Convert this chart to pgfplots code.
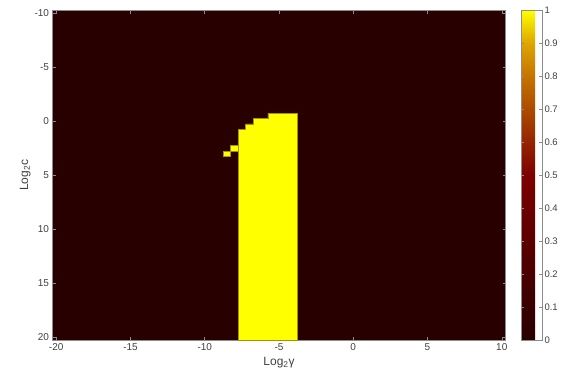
\documentclass[border=0pt]{standalone}
\usepackage{pgfplots}
\pgfplotsset{compat=1.18}
\usepackage{fontspec}
\setmainfont{Liberation Sans}
\definecolor{bg}{RGB}{40,0,0}
\definecolor{yel}{RGB}{255,255,0}
\definecolor{edgeyel}{RGB}{160,150,0}
\definecolor{axgray}{RGB}{140,140,140}
\definecolor{txt}{RGB}{64,64,64}
\begin{document}
\begin{tikzpicture}
\useasboundingbox (-52.5bp,-36bp) rectangle (511.5bp,340bp);
\begin{axis}[
 scale only axis, width=453bp, height=329.5bp,
 xmin=-20.25, xmax=10.25, ymin=-10.25, ymax=20.25,
 y dir=reverse,
 xtick={-20,-15,...,10}, ytick={-10,-5,...,20},
 axis background/.style={fill=bg},
 axis line style={axgray, line width=0.5bp},
 tick style={axgray, line width=0.5bp},
 major tick length=3bp,
 tick align=inside,
 ticklabel style={font=\fontsize{10bp}{11bp}\selectfont, text=txt},
 label style={font=\fontsize{12bp}{13bp}\selectfont, text=txt},
 ylabel style={yshift=-3bp},
 /pgf/number format/assume math mode=true,
 xlabel={Log\textsubscript{2}γ},
 ylabel={Log\textsubscript{2}c},
 colormap={hotish}{rgb255(0pt)=(40,0,0) rgb255(50pt)=(125,0,0) rgb255(60pt)=(150,35,0) rgb255(70pt)=(172,75,0) rgb255(80pt)=(198,115,0) rgb255(90pt)=(222,165,0) rgb255(100pt)=(255,255,0)},
 point meta min=0, point meta max=1,
 colorbar,
 colorbar style={
   at={(parent axis.north east)}, anchor=north west, xshift=7bp,
   scale only axis,
   width=21bp,
   ytick={0,0.1,0.2,0.3,0.4,0.5,0.6,0.7,0.8,0.9,1},
   axis line style={axgray, line width=0.5bp},
   tick style={axgray, line width=0.5bp},
   major tick length=3bp,
   tick align=inside,
   yticklabel style={font=\fontsize{9.5bp}{10bp}\selectfont, text=txt, xshift=-1bp},
   /pgf/number format/assume math mode=true,
 },
]
\addplot[fill=yel, draw=edgeyel, line width=0.5bp] coordinates {
(-7.75,20.25) (-7.75,0.75) (-7.25,0.75) (-7.25,0.25) (-6.75,0.25) (-6.75,-0.25)
(-5.75,-0.25) (-5.75,-0.75) (-3.75,-0.75) (-3.75,20.25)} -- cycle;
\addplot[fill=yel, draw=edgeyel, line width=0.5bp] coordinates {
(-8.25,2.25) (-7.75,2.25) (-7.75,2.75) (-8.25,2.75)} -- cycle;
\addplot[fill=yel, draw=edgeyel, line width=0.5bp] coordinates {
(-8.75,2.75) (-8.25,2.75) (-8.25,3.25) (-8.75,3.25)} -- cycle;
\end{axis}
\end{tikzpicture}
\end{document}
